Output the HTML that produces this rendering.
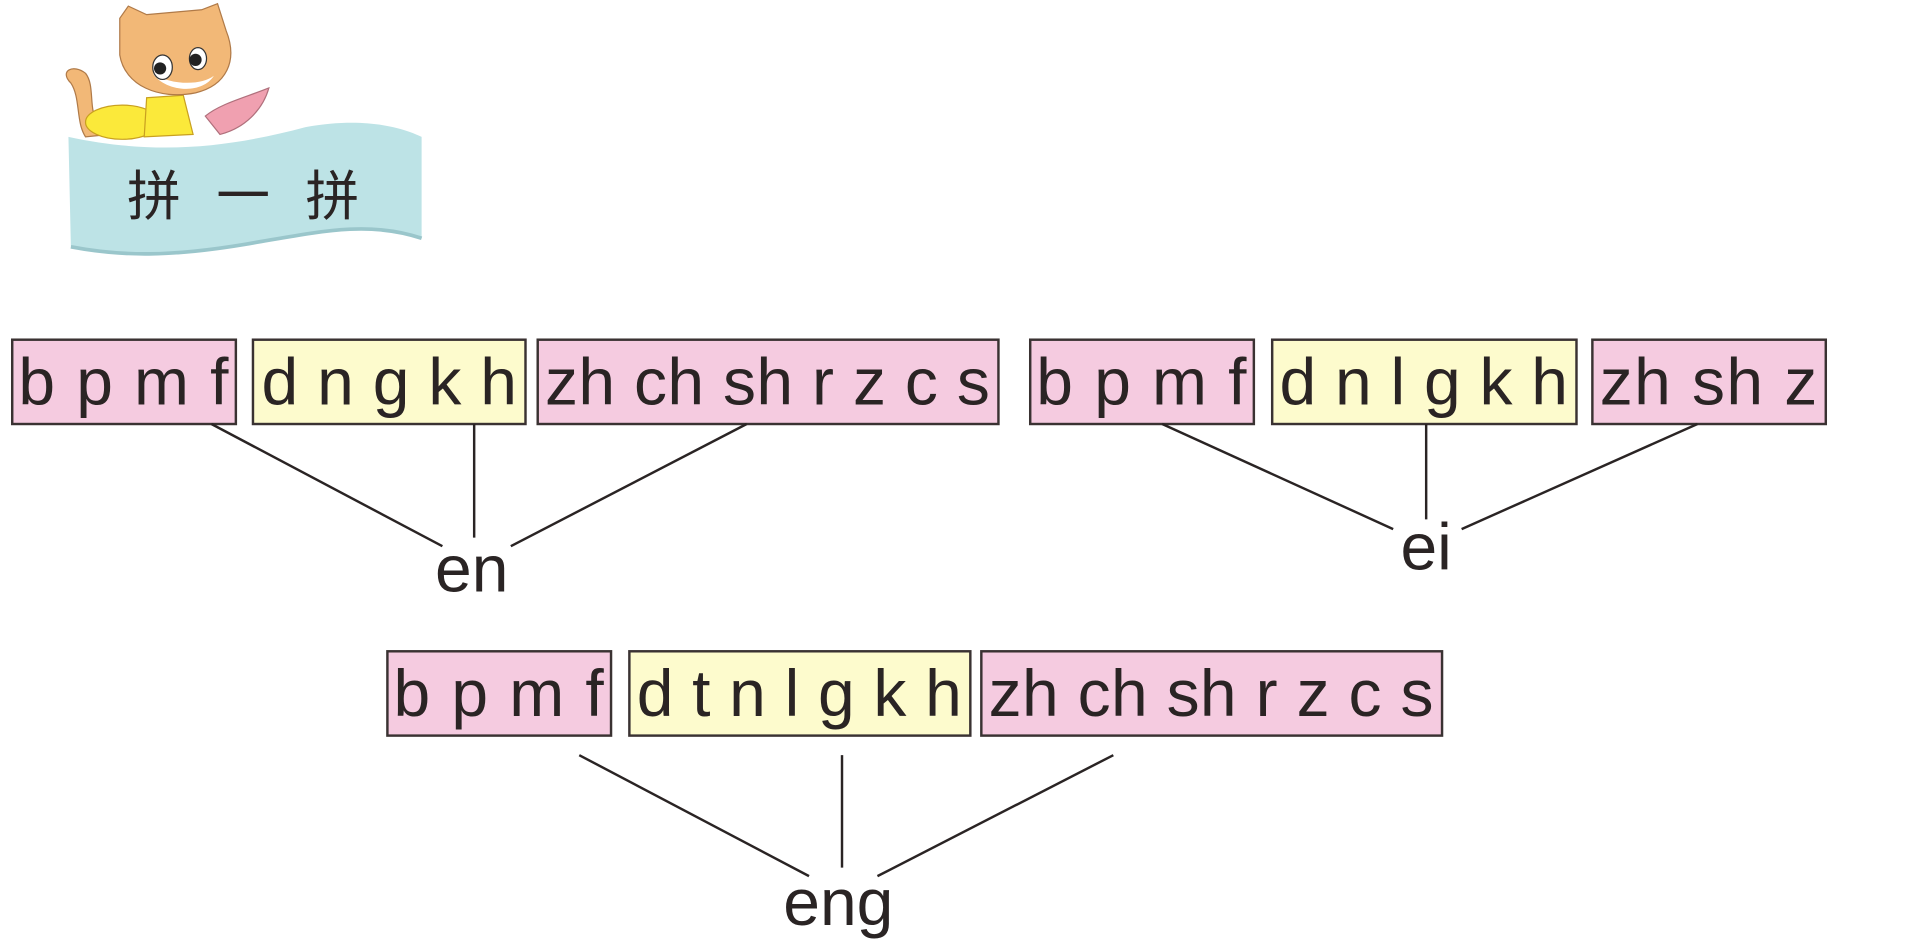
<!DOCTYPE html>
<html><head><meta charset="utf-8"><style>
html,body{margin:0;padding:0;background:#fff;}
svg{display:block;}
text{font-family:"Liberation Sans","Noto Sans CJK SC",sans-serif;fill:#2a2424;}
</style></head><body>
<svg width="1915" height="947" viewBox="0 0 1567 775" preserveAspectRatio="none" xmlns="http://www.w3.org/2000/svg">
<g>
<path d="M58,68 C48,58 60,52 70,60 C78,70 72,90 80,100 L90,110 L70,112 C62,100 66,80 58,68Z" fill="#f2b877" stroke="#b07a48" stroke-width="1"/>
<ellipse cx="100" cy="100" rx="30" ry="14" fill="#fbe93a" stroke="#c9a020" stroke-width="1"/>
<path d="M120,80 L150,78 L158,110 L118,112Z" fill="#fbe93a" stroke="#c9a020" stroke-width="1"/>
<path d="M98,15 L105,5 L120,12 L165,8 L178,3 L185,25 C195,50 185,70 160,76 C130,82 102,70 98,45Z" fill="#f2b877" stroke="#b07a48" stroke-width="1"/>
<path d="M125,60 C135,75 165,78 175,62 C165,70 140,70 125,60Z" fill="#fff"/>
<ellipse cx="133" cy="55" rx="8" ry="10" fill="#fff" stroke="#333" stroke-width="1"/>
<circle cx="131" cy="56" r="5" fill="#222"/>
<ellipse cx="162" cy="48" rx="7" ry="9" fill="#fff" stroke="#333" stroke-width="1"/>
<circle cx="160" cy="49" r="5" fill="#222"/>
<path d="M168,95 C180,85 200,80 220,72 C215,90 200,105 180,110Z" fill="#f0a0b0" stroke="#b0707c" stroke-width="1"/>
</g>
<path d="M56,112 C130,128 190,120 250,104 C300,95 330,105 345,112 L345,195 C300,180 260,190 200,200 C140,210 100,210 58,202Z" fill="#bde3e6"/>
<path d="M58,202 C100,210 140,210 200,200 C260,190 300,180 345,195" fill="none" stroke="#9ac6cb" stroke-width="3"/>
<text x="104" y="176" font-size="44" textLength="190" lengthAdjust="spacing">拼 一 拼</text>
<g stroke="#3a3232" stroke-width="2">
<rect x="10" y="278" width="183" height="69" fill="#f5cbe0"/>
<rect x="207" y="278" width="223" height="69" fill="#fdfbcd"/>
<rect x="440" y="278" width="377" height="69" fill="#f5cbe0"/>
<rect x="843" y="278" width="183" height="69" fill="#f5cbe0"/>
<rect x="1041" y="278" width="249" height="69" fill="#fdfbcd"/>
<rect x="1303" y="278" width="191" height="69" fill="#f5cbe0"/>
<rect x="317" y="533" width="183" height="69" fill="#f5cbe0"/>
<rect x="515" y="533" width="279" height="69" fill="#fdfbcd"/>
<rect x="803" y="533" width="377" height="69" fill="#f5cbe0"/>
</g>
<g font-size="54">
<text x="15" y="331" textLength="172" lengthAdjust="spacing">b p m f</text>
<text x="214" y="331" textLength="209" lengthAdjust="spacing">d n g k h</text>
<text x="446" y="331" textLength="364" lengthAdjust="spacing">zh ch sh r z c s</text>
<text x="848" y="331" textLength="172" lengthAdjust="spacing">b p m f</text>
<text x="1047" y="331" textLength="236" lengthAdjust="spacing">d n l g k h</text>
<text x="1309" y="331" textLength="178" lengthAdjust="spacing">zh sh z</text>
<text x="322" y="586" textLength="172" lengthAdjust="spacing">b p m f</text>
<text x="521" y="586" textLength="266" lengthAdjust="spacing">d t n l g k h</text>
<text x="809" y="586" textLength="364" lengthAdjust="spacing">zh ch sh r z c s</text>
</g>
<g stroke="#2a2424" stroke-width="2" fill="none">
<line x1="173" y1="347" x2="362" y2="447"/><line x1="388" y1="347" x2="388" y2="440"/><line x1="611" y1="347" x2="418" y2="447"/>
<line x1="951" y1="347" x2="1140" y2="433"/><line x1="1167" y1="347" x2="1167" y2="425"/><line x1="1389" y1="347" x2="1196" y2="433"/>
<line x1="474" y1="618" x2="662" y2="717"/><line x1="689" y1="618" x2="689" y2="710"/><line x1="911" y1="618" x2="718" y2="717"/>
</g>
<g font-size="54" text-anchor="middle">
<text x="386" y="484">en</text>
<text x="1167" y="466">ei</text>
<text x="686" y="757">eng</text>
</g>
</svg>
</body></html>
